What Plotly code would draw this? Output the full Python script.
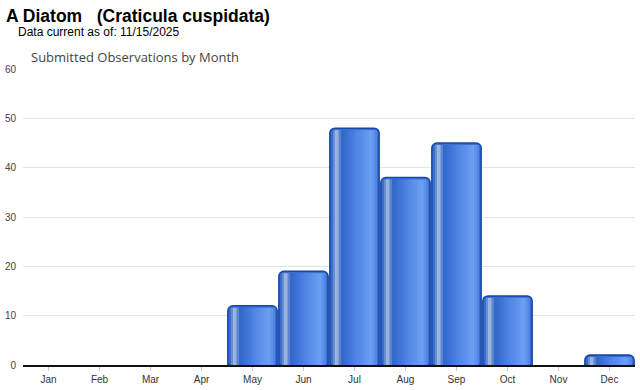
import plotly.graph_objects as go

months = ["Jan", "Feb", "Mar", "Apr", "May", "Jun", "Jul", "Aug", "Sep", "Oct", "Nov", "Dec"]
observations = [0, 0, 0, 0, 12, 19, 48, 38, 45, 14, 0, 2]
y_ticks = [0, 10, 20, 30, 40, 50, 60]

title_text = "A Diatom   (Craticula cuspidata)"
subtitle_text = "Data current as of: 11/15/2025"
chart_title = "Submitted Observations by Month"

# horizontal "cylinder" shading stops across a bar (fraction of width, colour)
shade_stops = [
    (0.00, (0x2a, 0x5c, 0xc2)),
    (0.06, (0x35, 0x68, 0xca)),
    (0.09, (0x5e, 0x88, 0xce)),
    (0.13, (0xa8, 0xbe, 0xe0)),
    (0.17, (0x8e, 0xaa, 0xda)),
    (0.25, (0x30, 0x66, 0xc8)),
    (0.50, (0x4a, 0x80, 0xe0)),
    (0.84, (0x6c, 0x9e, 0xf2)),
    (0.92, (0x5a, 0x8e, 0xe8)),
    (1.00, (0x2a, 0x5c, 0xc2)),
]


def shade(t):
    for (t0, c0), (t1, c1) in zip(shade_stops, shade_stops[1:]):
        if t0 <= t <= t1:
            f = (t - t0) / (t1 - t0) if t1 > t0 else 0
            return "rgb(%d,%d,%d)" % tuple(round(a + (b - a) * f) for a, b in zip(c0, c1))
    return "rgb(%d,%d,%d)" % shade_stops[-1][1]


bar_w = 0.965
fig = go.Figure()

# base bar: border + rounded corners (zero months drawn as nothing)
fig.add_trace(go.Bar(
    x=months, y=[v if v > 0 else None for v in observations], width=bar_w,
    marker=dict(color="#3a6fd0", line=dict(color="#1848a8", width=1.6), cornerradius=5),
    hoverinfo="skip", showlegend=False,
))

# shading strips inside each bar
n_strips = 30
inner0, inner1 = 0.05, 0.95
sw = (inner1 - inner0) / n_strips
for i in range(n_strips):
    t = inner0 + (i + 0.5) * sw
    fig.add_trace(go.Bar(
        x=months,
        y=[v - 0.4 if v > 0 else None for v in observations],
        width=sw * bar_w * 1.04,
        offset=-bar_w / 2 + (inner0 + i * sw) * bar_w,
        marker=dict(color=shade(t), line=dict(width=0)),
        hoverinfo="skip", showlegend=False,
    ))

L, R, T, B = 23, 5, 69, 22
pw, ph = 640 - L - R, 390 - T - B


def px(x):
    return (x - L) / pw


def py(y):
    return (390 - B - y) / ph


fig.update_layout(
    width=640, height=390,
    margin=dict(l=L, r=R, t=T, b=B),
    paper_bgcolor="white", plot_bgcolor="white",
    barmode="overlay", bargap=0.035,
    font=dict(family="Liberation Sans, Arial, sans-serif", color="#333"),
    xaxis=dict(
        categoryorder="array", categoryarray=months,
        showline=True, linecolor="#111", linewidth=1.5,
        ticks="outside", ticklen=4, tickcolor="#c8c8c8",
        tickfont=dict(size=10, color="#333"),
        showgrid=False, fixedrange=True,
    ),
    yaxis=dict(
        range=[0, 60], tickvals=y_ticks,
        showgrid=True, gridcolor="#e4e4e4", gridwidth=1,
        zeroline=False, ticks="", ticklabelstandoff=6,
        tickfont=dict(size=10, color="#444"),
        fixedrange=True,
    ),
    annotations=[
        dict(text="<b>" + title_text + "</b>", xref="paper", yref="paper",
             x=px(4), y=py(15), xanchor="left", yanchor="middle", showarrow=False,
             font=dict(size=17.5, color="#000", family="Liberation Sans, Arial, sans-serif")),
        dict(text=subtitle_text, xref="paper", yref="paper",
             x=px(16), y=py(32), xanchor="left", yanchor="middle", showarrow=False,
             font=dict(size=12, color="#000", family="Liberation Sans, Arial, sans-serif")),
        dict(text=chart_title, xref="paper", yref="paper",
             x=px(29), y=py(57), xanchor="left", yanchor="middle", showarrow=False,
             font=dict(size=13, color="#444", family="Open Sans, sans-serif")),
    ],
)

fig.write_html("out.html", config={"displayModeBar": False},
               post_script="document.body.style.margin='0';")
